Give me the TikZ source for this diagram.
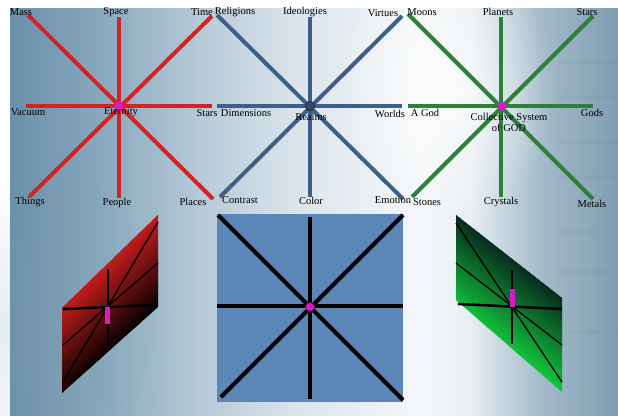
\documentclass[tikz,border=0pt]{standalone}
\usepackage{fontspec}
\setmainfont{Liberation Serif}
\usetikzlibrary{fadings}
\definecolor{bgA}{HTML}{6A90AA}
\definecolor{bgB}{HTML}{88A8BD}
\definecolor{bgC}{HTML}{B6CAD7}
\definecolor{bgD}{HTML}{DCE5EC}
\definecolor{bgE}{HTML}{F4F7F9}
\definecolor{bgF}{HTML}{E8EEF2}
\definecolor{bgG}{HTML}{A4BBCA}
\definecolor{bgH}{HTML}{7F9DB1}
\definecolor{starred}{HTML}{D22328}
\definecolor{starblue}{HTML}{3D5F88}
\definecolor{stargreen}{HTML}{2F7F3B}
\definecolor{dotmag}{HTML}{D81BC8}
\definecolor{sqblue}{HTML}{5A86B8}
\definecolor{pred}{HTML}{C81C1C}
\definecolor{pgreenD}{HTML}{062A1C}
\definecolor{pgreenB}{HTML}{12C83C}
\tikzfading[name=glow, inner color=transparent!0, outer color=transparent!100]
\tikzset{
  lbl/.style={inner sep=0pt, font=\fontsize{10.5}{11}\selectfont, text=black},
  redline/.style={draw=starred, line width=4pt},
  blueline/.style={draw=starblue, line width=4pt},
  greenline/.style={draw=stargreen, line width=4pt},
  blackline/.style={draw=black, line width=4pt},
  thinblk/.style={draw=black, line width=1.3pt},
  midblk/.style={draw=black, line width=2.6pt},
  magdot/.style={circle, fill=dotmag, inner sep=0pt, minimum size=8pt},
  magrect/.style={fill=dotmag, draw=none},
}
\begin{document}
\begin{tikzpicture}[x=1pt,y=-1pt]
\useasboundingbox (0,0) rectangle (618,415);
% background
\shade[left color=bgA, right color=bgB] (10,8) rectangle (100.5,415);
\shade[left color=bgB, right color=bgC] (100,8) rectangle (200.5,415);
\shade[left color=bgC, right color=bgD] (200,8) rectangle (300.5,415);
\shade[left color=bgD, right color=bgE] (300,8) rectangle (420.5,415);
\shade[left color=bgE, right color=bgF] (420,8) rectangle (470.5,415);
\shade[left color=bgF, right color=bgG] (470,8) rectangle (540.5,415);
\shade[left color=bgG, right color=bgH] (540,8) rectangle (618,415);
\fill[white, path fading=glow, opacity=0.75] (445,90) ellipse (110 and 140);
\fill[bgH, path fading=glow, opacity=0.25] (40,330) ellipse (130 and 160);
\foreach \yy/\op in {60/0.07,95/0.06,140/0.08,175/0.06,230/0.05,270/0.07,330/0.05}{
  \fill[bgH!80!black, opacity=\op] (560,\yy) rectangle (618,\yy+4);
}
% ---------- red star ----------
\coordinate (rc) at (119,106);
\coordinate (r1) at (28,15);
\coordinate (r2) at (119,17);
\coordinate (r3) at (212,16);
\coordinate (r4) at (26,106);
\coordinate (r5) at (212,106);
\coordinate (r6) at (29,197);
\coordinate (r7) at (119,198);
\coordinate (r8) at (213,199);
\draw[redline] (r1) -- (r8);
\draw[redline] (r3) -- (r6);
\draw[redline] (r2) -- (r7);
\draw[redline] (r4) -- (r5);
\fill[dotmag, opacity=0.35] (rc) circle (5.5);
\node[magdot] (rdot) at (rc) {};
\node[lbl] (lmass) at (21,12) {Mass};
\node[lbl] (lspace) at (116,12) {Space};
\node[lbl] (ltime) at (202,12) {Time};
\node[lbl] (lvac) at (28,112) {Vacuum};
\node[lbl] (leter) at (121,112) {Eternity};
\node[lbl] (lstars1) at (207,113) {Stars};
\node[lbl] (lthings) at (30,202) {Things};
\node[lbl] (lpeople) at (117,203) {People};
\node[lbl] (lplaces) at (193,202) {Places};
% ---------- blue star ----------
\coordinate (bc) at (310,106);
\coordinate (b1) at (217,15);
\coordinate (b2) at (310,17);
\coordinate (b3) at (402,16);
\coordinate (b4) at (217,106);
\coordinate (b5) at (402,106);
\coordinate (b6) at (220,197);
\coordinate (b7) at (310,197);
\coordinate (b8) at (403,199);
\draw[blueline] (b1) -- (b8);
\draw[blueline] (b3) -- (b6);
\draw[blueline] (b2) -- (b7);
\draw[blueline] (b4) -- (b5);
\node[circle, fill=starblue!80!black, draw=starblue!50!black, line width=1pt, inner sep=0pt, minimum size=9pt] (bdot) at (bc) {};
\node[lbl] (lrel) at (235,12) {Religions};
\node[lbl] (lideo) at (305,12) {Ideologies};
\node[lbl] (lvirt) at (383,13) {Virtues};
\node[lbl] (ldim) at (246,113) {Dimensions};
\node[lbl] (lrealms) at (311,117) {Realms};
\node[lbl] (lworlds) at (390,114) {Worlds};
\node[lbl] (lcontr) at (240,200) {Contrast};
\node[lbl] (lcolor) at (311,201) {Color};
\node[lbl] (lemot) at (393,200) {Emotion};
% ---------- green star ----------
\coordinate (gc) at (502,106);
\coordinate (g1) at (408,14);
\coordinate (g2) at (501,17);
\coordinate (g3) at (593,16);
\coordinate (g4) at (408,106);
\coordinate (g5) at (593,106);
\coordinate (g6) at (412,197);
\coordinate (g7) at (501,197);
\coordinate (g8) at (593,199);
\draw[greenline] (g1) -- (g8);
\draw[greenline] (g3) -- (g6);
\draw[greenline] (g2) -- (g7);
\draw[greenline] (g4) -- (g5);
\fill[dotmag, opacity=0.35] (gc) circle (5.5);
\node[magdot] (gdot) at (gc) {};
\node[lbl] (lmoons) at (422,12) {Moons};
\node[lbl] (lplan) at (498,12) {Planets};
\node[lbl] (lstars2) at (587,12) {Stars};
\node[lbl] (lagod) at (425,113) {A God};
\node[lbl, align=center] (lcoll) at (509,122) {Collective System\\of GOD};
\node[lbl] (lgods) at (592,113) {Gods};
\node[lbl] (lstones) at (427,202) {Stones};
\node[lbl] (lcryst) at (501,202) {Crystals};
\node[lbl] (lmetals) at (592,204) {Metals};
% ---------- red parallelogram ----------
\coordinate (pA) at (62,308);
\coordinate (pB) at (158,215);
\coordinate (pC) at (158,307);
\coordinate (pD) at (62,393);
\begin{scope}
\clip (pA) -- (pB) -- (pC) -- (pD) -- cycle;
\foreach \i in {0,...,33}{
  \pgfmathsetmacro\ss{-3+3*\i}
  \pgfmathtruncatemacro\pp{max(0,min(100,100-100*\i/32))}
  \fill[pred!\pp!black] (55,314.8+\ss) -- (165,208.2+\ss) -- (165,211.8+\ss) -- (55,318.4+\ss) -- cycle;
}
\end{scope}
\coordinate (pc) at (108,307);
\draw[midblk] (63,309) -- (157,305);
\draw[midblk] (108,269) -- (108,344);
\draw[thinblk] (63,345) -- (158,263);
\draw[thinblk] (63,382) -- (158,222);
\fill[magrect] (105,307) rectangle (110,324);
% ---------- blue square ----------
\node[fill=sqblue, draw=none, minimum width=186pt, minimum height=188pt, inner sep=0pt] (sq) at (310,308) {};
\draw[blackline] (218,215) -- (403,400);
\draw[blackline] (221,397) -- (403,215);
\draw[blackline] (310,217) -- (310,399);
\draw[blackline] (217,306) -- (403,306);
\fill[dotmag, opacity=0.35] (310,307) circle (5.5);
\node[magdot] (sdot) at (310,307) {};
% ---------- green parallelogram ----------
\coordinate (qA) at (456,215);
\coordinate (qB) at (562,298);
\coordinate (qC) at (562,392);
\coordinate (qD) at (456,300);
\begin{scope}
\clip (qA) -- (qB) -- (qC) -- (qD) -- cycle;
\foreach \i in {0,...,33}{
  \pgfmathsetmacro\ss{-3+3*\i}
  \pgfmathtruncatemacro\pp{max(0,min(100,100*\i/32))}
  \fill[pgreenB!\pp!pgreenD] (450,210.3+\ss) -- (570,304.2+\ss) -- (570,307.8+\ss) -- (450,213.9+\ss) -- cycle;
}
\end{scope}
\draw[midblk] (458,304) -- (562,309);
\draw[midblk] (512,270) -- (512,344);
\draw[thinblk] (456,223) -- (562,382);
\draw[thinblk] (456,263) -- (562,345);
\fill[magrect] (510,289) rectangle (515,307);
\end{tikzpicture}
\end{document}
